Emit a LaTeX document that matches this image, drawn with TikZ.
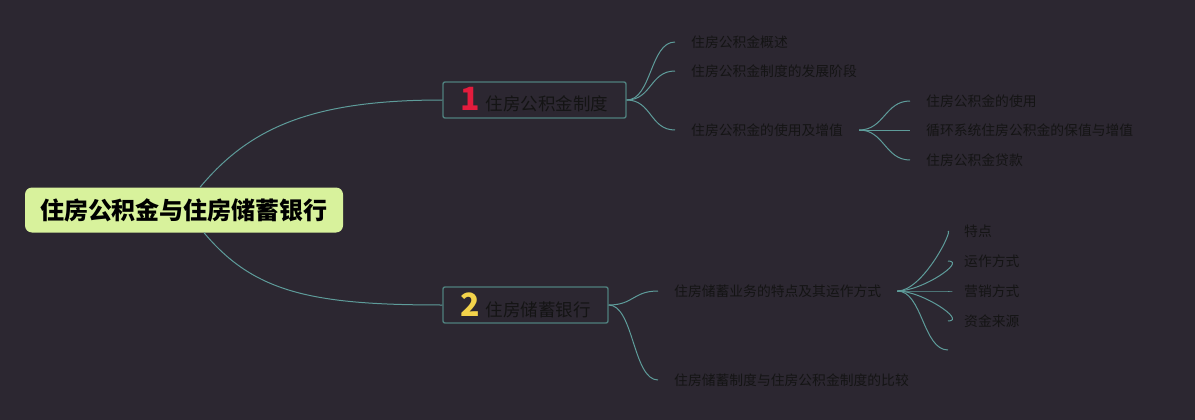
\documentclass[tikz,border=0pt]{standalone}
\usepackage{fontspec}
\setmainfont{Noto Sans CJK SC}
\usetikzlibrary{positioning,calc}
\definecolor{bg}{HTML}{2C2731}
\definecolor{wire}{HTML}{5E9C9A}
\definecolor{frame}{HTML}{4F7F7D}
\definecolor{rootfill}{HTML}{D8F29C}
\definecolor{ink}{HTML}{141414}
\definecolor{one}{HTML}{E31C3D}
\definecolor{two}{HTML}{F3D34B}
\newcommand{\badge}[2]{{\fontsize{32}{32}\selectfont\bfseries\color{#1}#2}\hspace{6pt}}

\begin{document}
\begin{tikzpicture}[x=1pt,y=-1pt,
  font=\fontsize{13.8}{16}\selectfont, text=ink,
  central/.style={fill=rootfill,rounded corners=7pt,minimum width=318pt,minimum height=45pt,
                  inner sep=0pt,font=\fontsize{24}{26}\selectfont\bfseries,text=black},
  main/.style={draw=frame,line width=1.4pt,rounded corners=2pt,minimum height=36pt,
               inner sep=0pt,font=\fontsize{17.5}{20}\selectfont},
  topic/.style={anchor=west,inner xsep=16pt,inner ysep=2pt},
  link/.style={draw=wire,line width=1pt}]
\fill[bg] (0,0) rectangle (1195,420);
\useasboundingbox (0,0) rectangle (1195,420);

\node[central] (root) at (184,210) {住房公积金与住房储蓄银行};
\node[main,minimum width=183pt] (gjj) at (534.5,100) {\badge{one}{1}住房公积金制度};
\node[main,minimum width=165pt] (cx) at (525.5,305) {\badge{two}{2}住房储蓄银行};

% first branch
\node[topic] (gs) at (675,42) {住房公积金概述};
\node[topic] (fz) at (675,71) {住房公积金制度的发展阶段};
\node[topic] (sy) at (675,130) {住房公积金的使用及增值};
\node[topic] (use) at (910,101) {住房公积金的使用};
\node[topic] (keep) at (910,130) {循环系统住房公积金的保值与增值};
\node[topic] (loan) at (910,160) {住房公积金贷款};

% second branch
\node[topic] (yw) at (658,291) {住房储蓄业务的特点及其运作方式};
\node[topic] (bj) at (658,380) {住房储蓄制度与住房公积金制度的比较};
\node[topic] (td) at (948,231) {特点};
\node[topic] (yz) at (948,261) {运作方式};
\node[topic] (yx) at (948,291) {营销方式};
\node[topic] (zj) at (948,321) {资金来源};
\coordinate (blank) at (948,350);

\draw[link] ($(root.north)+(16,0)$) .. controls +(50,-60) and +(-130,0) .. (gjj.west);
\draw[link] ($(root.south)+(20,0)$) .. controls +(50,60) and +(-130,0) .. (cx.west);
\foreach \t in {gs,fz,sy}
  \draw[link] (gjj.east) .. controls +(25,0) and +(-25,0) .. (\t.west);
\foreach \t in {use,keep,loan}
  \draw[link] (sy.east) .. controls +(25,0) and +(-25,0) .. (\t.west);
\foreach \t in {yw,bj}
  \draw[link] (cx.east) .. controls +(25,0) and +(-25,0) .. (\t.west);
\foreach \t in {td,yz,yx,zj,blank}
  \draw[link] (yw.east) .. controls +(25,0) and +(-25,0) .. (\t);
\end{tikzpicture}
\end{document}
